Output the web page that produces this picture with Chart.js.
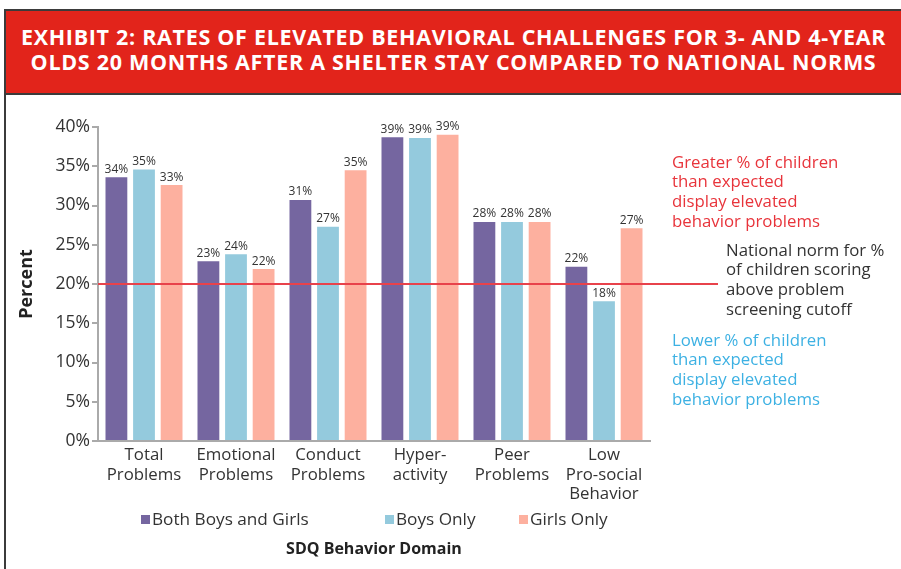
<!DOCTYPE html>
<html>
<head>
<meta charset="utf-8">
<script src="https://cdn.jsdelivr.net/npm/chart.js@4/dist/chart.umd.min.js"></script>
<style>
  html, body { margin: 0; padding: 0; background: #fff; }
  #wrap { position: relative; width: 901px; height: 569px; overflow: hidden; font-family: "Open Sans", sans-serif; }
  #frame { position: absolute; left: 4px; top: 9px; width: 920px; height: 600px; border-left: 2px solid #3b3b3b; border-top: 2px solid #3b3b3b; }
  #head { position: absolute; left: 6px; top: 11px; width: 895px; height: 69px; padding-top: 13px; background: #E2241B;
          border-bottom: 2px solid #3b3b3b; color: #fff; font-weight: bold; font-size: 21.5px; letter-spacing: 0.7px;
          line-height: 25px; text-align: center; white-space: nowrap; }
  #chart { position: absolute; left: 0; top: 0; }
</style>
</head>
<body>
<div id="wrap">
  <div id="frame"></div>
  <div id="head">EXHIBIT 2: RATES OF ELEVATED BEHAVIORAL CHALLENGES FOR 3- AND 4-YEAR<br>OLDS 20 MONTHS AFTER A SHELTER STAY COMPARED TO NATIONAL NORMS</div>
  <canvas id="chart" width="901" height="569"></canvas>
</div>
<script>
// categories on the x axis
const categories = [
  ['Total', 'Problems'],
  ['Emotional', 'Problems'],
  ['Conduct', 'Problems'],
  ['Hyper-', 'activity'],
  ['Peer', 'Problems'],
  ['Low', 'Pro-social', 'Behavior']
];
const seriesNames = ['Both Boys and Girls', 'Boys Only', 'Girls Only'];
// percent of children with elevated scores (bar heights)
const bothValues = [33.6, 22.9, 30.7, 38.7, 27.9, 22.2];
const boysValues = [34.6, 23.8, 27.3, 38.6, 27.9, 17.8];
const girlsValues = [32.6, 21.9, 34.5, 39.0, 27.9, 27.1];
const yTicks = [0, 5, 10, 15, 20, 25, 30, 35, 40];
const nationalNorm = 20;

const greaterNote = ['Greater % of children', 'than expected', 'display elevated', 'behavior problems'];
const normNote = ['National norm for %', 'of children scoring', 'above problem', 'screening cutoff'];
const lowerNote = ['Lower % of children', 'than expected', 'display elevated', 'behavior problems'];

const colors = ['#7566A0', '#94CADD', '#FDB09F'];
const fontFam = '"Open Sans", sans-serif';

// value labels above every bar
const barLabels = {
  id: 'barLabels',
  afterDatasetsDraw(chart) {
    const ctx = chart.ctx;
    ctx.save();
    ctx.font = '12px ' + fontFam;
    ctx.fillStyle = '#333';
    ctx.textAlign = 'center';
    ctx.textBaseline = 'bottom';
    chart.data.datasets.forEach((ds, i) => {
      chart.getDatasetMeta(i).data.forEach((bar, j) => {
        ctx.fillText(Math.round(ds.data[j]) + '%', bar.x, bar.y - 2);
      });
    });
    ctx.restore();
  }
};

// national norm line, notes and the legend row
const extras = {
  id: 'extras',
  afterDraw(chart) {
    const ctx = chart.ctx;
    const y = chart.scales.y.getPixelForValue(nationalNorm);
    ctx.save();
    ctx.strokeStyle = '#E8424B';
    ctx.lineWidth = 2;
    ctx.beginPath();
    ctx.moveTo(chart.chartArea.left, y);
    ctx.lineTo(718, y);
    ctx.stroke();

    ctx.font = '16.8px ' + fontFam;
    ctx.textBaseline = 'middle';
    ctx.textAlign = 'left';
    ctx.fillStyle = '#E8343B';
    greaterNote.forEach((t, i) => ctx.fillText(t, 672, 163 + i * 19.7));
    ctx.fillStyle = '#333';
    normNote.forEach((t, i) => ctx.fillText(t, 726, 251 + i * 19.7));
    ctx.fillStyle = '#3DB1E3';
    lowerNote.forEach((t, i) => ctx.fillText(t, 672, 341 + i * 19.7));

    // legend
    const legendX = [141, 385, 519];
    ctx.font = '17.2px ' + fontFam;
    chart.data.datasets.forEach((ds, i) => {
      ctx.fillStyle = ds.backgroundColor;
      ctx.fillRect(legendX[i], 515, 9, 9);
      ctx.fillStyle = '#333';
      ctx.fillText(ds.label, legendX[i] + 11, 520);
    });
    ctx.restore();
  }
};

new Chart(document.getElementById('chart'), {
  type: 'bar',
  data: {
    labels: categories,
    datasets: [
      { label: seriesNames[0], data: bothValues, backgroundColor: colors[0] },
      { label: seriesNames[1], data: boysValues, backgroundColor: colors[1] },
      { label: seriesNames[2], data: girlsValues, backgroundColor: colors[2] }
    ]
  },
  options: {
    responsive: false,
    animation: false,
    devicePixelRatio: 1,
    layout: { padding: { left: 10, top: 127, right: 251, bottom: 0 } },
    datasets: { bar: { categoryPercentage: 0.9, barPercentage: 0.79 } },
    plugins: { legend: { display: false }, tooltip: { enabled: false } },
    scales: {
      x: {
        grid: { drawOnChartArea: false, drawTicks: false },
        border: { color: '#aaa', width: 2 },
        ticks: { color: '#333', font: { family: fontFam, size: 16.8, lineHeight: 1.15 }, padding: 5, maxRotation: 0, autoSkip: false },
        title: { display: true, text: 'SDQ Behavior Domain', color: '#222', font: { family: fontFam, size: 16, weight: 'bold' }, padding: { bottom: 10 } },
        afterFit(scale) { scale.height = 128; }
      },
      y: {
        min: 0,
        max: 40,
        afterBuildTicks(scale) { scale.ticks = yTicks.map(v => ({ value: v })); },
        grid: { drawOnChartArea: false, drawTicks: true, tickLength: 6, color: '#aaa', lineWidth: 2 },
        border: { color: '#aaa', width: 2 },
        ticks: { color: '#333', font: { family: fontFam, size: 17.5 }, padding: 2, callback: v => v + '%' },
        title: { display: true, text: 'Percent', color: '#222', font: { family: fontFam, size: 18, weight: 'bold' }, padding: { top: 6 } },
        afterFit(scale) { scale.width = 88; }
      }
    }
  },
  plugins: [barLabels, extras]
});
</script>
</body>
</html>
